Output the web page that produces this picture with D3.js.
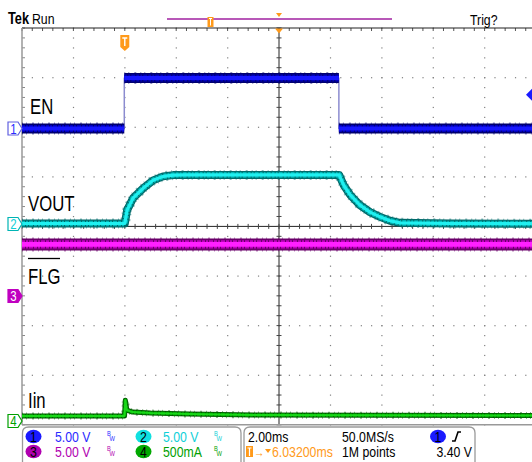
<!DOCTYPE html>
<html>
<head>
<meta charset="utf-8">
<script src="https://cdn.jsdelivr.net/npm/d3@7"></script>
<style>
  html, body { margin: 0; padding: 0; background: #fff; }
  svg { display: block; font-family: "Liberation Sans", Arial, sans-serif; }
</style>
</head>
<body>
<svg id="scope" width="532" height="462"></svg>
<script>
/// trace data, time in ms from left edge of the screen
var enTime    = [0, 3.98, 3.98, 12.33, 12.33, 20];
var enVolts   = [0, 0, 5.1, 5.1, 0, 0];
var voutTime  = [0, 4.0, 4.09, 4.32, 4.71, 5.10, 5.49, 5.88, 6.34, 12.34, 12.52, 12.78, 13.15, 13.54, 13.93, 14.32, 14.71, 16.65, 20];
var voutVolts = [0.05, 0.05, 1.4, 2.6, 3.6, 4.4, 4.8, 4.93, 4.95, 4.95, 3.9, 2.9, 1.9, 1.2, 0.72, 0.33, 0.12, 0.05, 0.03];
var flgTime   = [0, 20];
var flgVolts  = [5.2, 5.2];
var iinTime   = [0, 3.99, 4.02, 4.08, 4.3, 5.0, 6.5, 9, 20];
var iinAmps   = [0.05, 0.05, 0.21, 0.11, 0.09, 0.08, 0.07, 0.06, 0.055];

/// labels
var traceLabels = ["EN", "VOUT", "FLG", "Iin"];
var chScaleText = ["5.00 V", "5.00 V", "5.00 V", "500mA"];
var timeDiv = "2.00ms", sampleRate = "50.0MS/s", trigPos = "6.03200ms", recLen = "1M points", trigLevel = "3.40 V";

// namespace for setup
var scope = {
  x0: 22, y0: 28, divW: 51.4, divH: 49.6,
  ch: [
    { perDiv: 5,   gnd: 128.5, dark: "#00006e", mid: "#0000c0", bright: "#1818ff", text: "#2a2aff", badge: "#1a1aff" },
    { perDiv: 5,   gnd: 224,   dark: "#006a6a", mid: "#00b4b4", bright: "#20f0f0", text: "#10d0d8", badge: "#10e0e0" },
    { perDiv: 5,   gnd: 296,   dark: "#6a006a", mid: "#c000c0", bright: "#ff20ff", text: "#b000b0", badge: "#b000b0" },
    { perDiv: 0.5, gnd: 421,   dark: "#005800", mid: "#00a000", bright: "#18d818", text: "#00a000", badge: "#00a800" }
  ]
};
var orange = "#ff9a1a";

var svg = d3.select("#scope");
var x = d3.scaleLinear().domain([0, 20]).range([scope.x0, scope.x0 + 10 * scope.divW]);
var xDiv = d3.scaleLinear().domain([0, 10]).range([scope.x0, scope.x0 + 10 * scope.divW]);
var yDiv = d3.scaleLinear().domain([0, 8]).range([scope.y0, scope.y0 + 8 * scope.divH]);
var yCh = scope.ch.map(function(c) {
  return d3.scaleLinear().domain([0, c.perDiv]).range([c.gnd, c.gnd - scope.divH]);
});
var xRight = 532, yBottom = yDiv(8);

// condensed text helper (scope font is narrow)
function txt(px, py, s, size, fill, anchor, weight, squeeze) {
  return svg.append("text")
    .attr("transform", "translate(" + px + "," + py + ") scale(" + (squeeze || 0.82) + ",1)")
    .attr("font-size", size).attr("fill", fill || "#000")
    .attr("text-anchor", anchor || "start").attr("font-weight", weight || "normal")
    .text(s);
}

svg.append("defs").append("clipPath").attr("id", "plot")
  .append("rect").attr("x", scope.x0).attr("y", scope.y0).attr("width", xRight - scope.x0).attr("height", yBottom - scope.y0);

// graticule
var grat = svg.append("g");
var minorX = d3.range(0, 50.01, 1).map(function(i) { return xDiv(i / 5); }).filter(function(v) { return v <= xRight; });
var minorY = d3.range(0, 40.01, 1).map(function(i) { return yDiv(i / 5); });
[1, 2, 3, 4, 6, 7, 8, 9].forEach(function(i) {
  grat.selectAll(null).data(minorY).enter().append("rect")
    .attr("x", xDiv(i) - 0.5).attr("y", function(d) { return d - 0.5; })
    .attr("width", 1.2).attr("height", 1.2).attr("fill", "#808080");
});
[1, 2, 3, 5, 6, 7].forEach(function(j) {
  grat.selectAll(null).data(minorX).enter().append("rect")
    .attr("x", function(d) { return d - 0.5; }).attr("y", yDiv(j) - 0.5)
    .attr("width", 1.2).attr("height", 1.2).attr("fill", "#808080");
});
// centre cross with ticks
grat.append("line").attr("x1", xDiv(5)).attr("x2", xDiv(5)).attr("y1", scope.y0).attr("y2", yBottom).attr("stroke", "#222");
grat.append("line").attr("x1", scope.x0).attr("x2", xRight).attr("y1", yDiv(4)).attr("y2", yDiv(4)).attr("stroke", "#222");
grat.selectAll(null).data(minorY).enter().append("line")
  .attr("x1", xDiv(5) - 2.5).attr("x2", xDiv(5) + 2.5).attr("y1", function(d) { return d; }).attr("y2", function(d) { return d; })
  .attr("stroke", "#444");
grat.selectAll(null).data(minorX).enter().append("line")
  .attr("y1", yDiv(4) - 2.5).attr("y2", yDiv(4) + 2.5).attr("x1", function(d) { return d; }).attr("x2", function(d) { return d; })
  .attr("stroke", "#444");
// border ticks
grat.selectAll(null).data(minorX).enter().append("line")
  .attr("y1", scope.y0).attr("y2", scope.y0 + 3).attr("x1", function(d) { return d; }).attr("x2", function(d) { return d; })
  .attr("stroke", "#555");
grat.selectAll(null).data(minorY).enter().append("line")
  .attr("x1", scope.x0).attr("x2", scope.x0 + 3).attr("y1", function(d) { return d; }).attr("y2", function(d) { return d; })
  .attr("stroke", "#888");
grat.append("line").attr("x1", scope.x0).attr("x2", xRight).attr("y1", scope.y0).attr("y2", scope.y0).attr("stroke", "#222").attr("stroke-width", 1.2);
grat.append("line").attr("x1", scope.x0).attr("x2", scope.x0).attr("y1", scope.y0).attr("y2", yBottom).attr("stroke", "#999").attr("stroke-width", 1.5);
grat.append("line").attr("x1", scope.x0).attr("x2", xRight).attr("y1", yBottom).attr("y2", yBottom).attr("stroke", "#999").attr("stroke-width", 1.5);

// traces
var traces = svg.append("g").attr("clip-path", "url(#plot)");

function drawBand(times, values, ci, w, thinEdges) {
  var c = scope.ch[ci], ys = yCh[ci];
  var pts = times.map(function(t, i) { return [x(t), ys(values[i])]; });
  var line = d3.line();
  var g = traces.append("g").attr("fill", "none").attr("stroke-linejoin", "round");
  if (thinEdges) {
    g.append("path").attr("d", line(pts)).attr("stroke", "#8c8cd0").attr("stroke-width", 1.5);
  }
  var segs = [];
  if (thinEdges) {
    for (var i = 0; i < pts.length - 1; i++) {
      if (values[i] === values[i + 1]) segs.push([pts[i], pts[i + 1]]);
    }
  } else {
    segs.push(pts);
  }
  segs.forEach(function(s) {
    g.append("path").attr("d", line(s)).attr("stroke", c.dark).attr("stroke-width", w + 2)
      .attr("stroke-dasharray", "1 3 1 5 2 4").attr("opacity", 0.45);
    g.append("path").attr("d", line(s)).attr("stroke", c.dark).attr("stroke-width", w);
    g.append("path").attr("d", line(s)).attr("stroke", c.mid).attr("stroke-width", w * 0.7)
      .attr("stroke-dasharray", "3 1 2 1 4 1");
    g.append("path").attr("d", line(s)).attr("stroke", c.bright).attr("stroke-width", w * 0.4);
  });
}
drawBand(flgTime, flgVolts, 2, 12, false);
drawBand(iinTime, iinAmps, 3, 5, false);
drawBand(voutTime, voutVolts, 1, 8, false);
drawBand(enTime, enVolts, 0, 10, true);

// trace labels
var labelPos = [[30, 114], [28, 211], [28, 284], [28, 408]];
traceLabels.forEach(function(d, i) { txt(labelPos[i][0], labelPos[i][1], d, 22, "#000", "start", "normal", 0.76); });
svg.append("line").attr("x1", 28).attr("x2", 60).attr("y1", 258.5).attr("y2", 258.5).attr("stroke", "#000").attr("stroke-width", 1.3);

// channel markers on the left edge
scope.ch.forEach(function(c, i) {
  var yc = c.gnd, filled = (i === 2);
  svg.append("path")
    .attr("d", "M8," + (yc - 6.5) + "h10l4,6.5l-4,6.5h-10z")
    .attr("fill", filled ? c.mid : "#fff").attr("stroke", i === 0 ? "#6060e0" : c.mid).attr("stroke-width", 1.2);
  txt(13.5, yc + 5, i + 1, 14, filled ? "#fff" : c.text, "middle");
});

// trigger level marker on the right
svg.append("path").attr("d", "M526," + yCh[0](3.4) + "l6,-6v12z").attr("fill", "#1a1aff");

// trigger position marker
var tx = x(3.98) + 0.5;
svg.append("path").attr("d", "M" + (tx - 4.5) + ",35h9v12l-4.5,4l-4.5,-4z").attr("fill", orange);
svg.append("path").attr("d", "M" + (tx - 2.5) + ",38h5M" + tx + ",38v8").attr("stroke", "#fff").attr("stroke-width", 1.4);
svg.append("path").attr("d", "M" + (xDiv(5) - 4) + "," + (scope.y0 + 0.5) + "h8l-4,5z").attr("fill", orange);

// header
txt(8, 24, "Tek", 16, "#000", "start", "bold", 0.8);
txt(32, 24, "Run", 15);
txt(470, 25, "Trig?", 15);
svg.append("line").attr("x1", 167).attr("x2", 392).attr("y1", 19).attr("y2", 19).attr("stroke", "#a020a0").attr("stroke-width", 1.5);
svg.append("rect").attr("x", 207.5).attr("y", 17).attr("width", 6).attr("height", 10).attr("fill", orange);
svg.append("path").attr("d", "M209,18.5h3M210.5,18.5v7").attr("stroke", "#fff").attr("stroke-width", 1);
svg.append("path").attr("d", "M" + (xDiv(5) - 3) + ",13h6l-3,4z").attr("fill", orange);

// status boxes
function box(x1, x2) {
  svg.append("path")
    .attr("d", "M" + x1 + ",480V433q0,-6 6,-6H" + (x2 - 6) + "q6,0 6,6V480")
    .attr("fill", "#fff").attr("stroke", "#9a9a9a").attr("stroke-width", 1.3);
}
box(22.5, 241);
box(244, 475);

var rowY = [442, 457];
var chCols = [[33.5, 55, 107], [143.5, 163, 214], [33.5, 55, 107], [143.5, 163, 214]];
scope.ch.forEach(function(c, i) {
  var col = chCols[i], ry = rowY[i < 2 ? 0 : 1];
  svg.append("ellipse").attr("cx", col[0]).attr("cy", ry - 5.5).attr("rx", 8).attr("ry", 6.8).attr("fill", c.badge);
  txt(col[0], ry - 0.5, i + 1, 15, "#000", "middle");
  txt(col[1], ry, chScaleText[i], 15, c.text);
  txt(col[2], ry - 6, "B", 7, c.text);
  txt(col[2] + 2.5, ry - 1, "W", 7, c.text);
});

txt(248, rowY[0], timeDiv, 15);
txt(342, rowY[0], sampleRate, 15);
svg.append("ellipse").attr("cx", 438).attr("cy", rowY[0] - 5.5).attr("rx", 8).attr("ry", 6.8).attr("fill", "#1a1aff");
txt(438, rowY[0] - 0.5, "1", 15, "#000", "middle");
svg.append("path").attr("d", "M452," + (rowY[0] - 1) + "h3l3,-9h3").attr("fill", "none").attr("stroke", "#000").attr("stroke-width", 1.6);

svg.append("rect").attr("x", 246).attr("y", 446).attr("width", 7).attr("height", 11).attr("fill", orange);
svg.append("path").attr("d", "M247.5,448h4M249.5,448v8").attr("stroke", "#fff").attr("stroke-width", 1.2);
txt(254, rowY[1], "\u2192", 13, orange);
svg.append("path").attr("d", "M265,449h6l-3,4z").attr("fill", orange);
txt(272, rowY[1], trigPos, 15, orange);
txt(342, rowY[1], recLen, 15);
txt(472, rowY[1], trigLevel, 15, "#000", "end");
</script>
</body>
</html>
